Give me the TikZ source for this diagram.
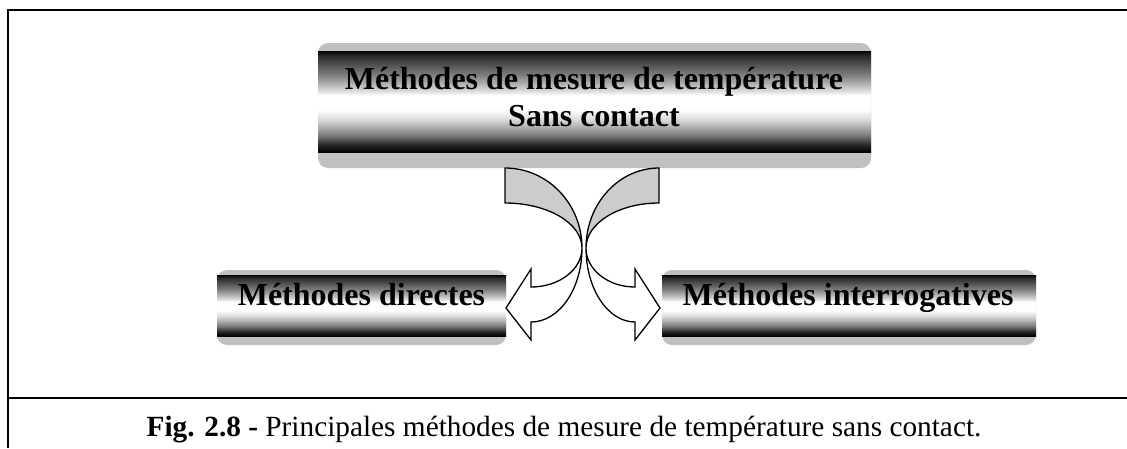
\documentclass[tikz,border=0pt]{standalone}
\usepackage{fontspec}
\setmainfont{Liberation Serif}
% metallic tube: TikZ maps the path onto the 25bp--75bp part of the shading
\pgfdeclareverticalshading{tube}{100bp}{color(0bp)=(black); color(25bp)=(black); color(28.5bp)=(black!85); color(33.5bp)=(black!50); color(41bp)=(black!15); color(46bp)=(white); color(53bp)=(white); color(55.5bp)=(black!15); color(63bp)=(black!50); color(73bp)=(black!85); color(75bp)=(black); color(100bp)=(black)}
\definecolor{boxgray}{HTML}{C0C0C0}
\definecolor{backgray}{HTML}{CCCCCC}
\tikzset{
  frameline/.style={line width=2pt},
  plate/.style={fill=boxgray, rounded corners=10pt},
  band/.style={shading=tube},
  boxtext/.style={inner sep=0pt, anchor=base, font=\fontsize{32}{37}\selectfont\bfseries},
  captext/.style={inner sep=0pt, anchor=base, font=\fontsize{29.3}{34}\selectfont},
  backface/.style={fill=backgray, draw=black, line width=1.3pt, line join=miter},
  frontface/.style={fill=white, draw=black, line width=1.3pt, line join=miter},
}
\begin{document}
\begin{tikzpicture}[x=1pt, y=-1pt]
\useasboundingbox (0,0) rectangle (1127,448);

% outer frame and caption rule
\draw[frameline] (1127,10) -- (8,10) -- (8,448);
\draw[frameline] (8,398) -- (1127,398);

% top box
\fill[plate] (318,43) rectangle (871,168);
\shade[band] (318,51) rectangle (871,152);
\node[boxtext] (topA) at (594,89.3) {Méthodes de mesure de température};
\node[boxtext] (topB) at (594,126.7) {Sans contact};

% lower left box
\fill[plate] (217,270) rectangle (506,345);
\shade[band] (217,275) rectangle (506,336);
\node[boxtext] (direct) at (361.5,305) {Méthodes directes};

% lower right box
\fill[plate] (662,270) rectangle (1036,345);
\shade[band] (662,275) rectangle (1036,336);
\node[boxtext] (interr) at (848,305) {Méthodes interrogatives};

% left curved arrow: back face, then front face with head
\draw[backface] (505,168) .. controls (547.5,168) and (582,203.8) .. (582,248)
  .. controls (582,223.1) and (547.5,203) .. (505,203) -- cycle;
\draw[frontface] (582,248) .. controls (582,288.9) and (559.2,322) .. (531,322)
  -- (531,340) -- (506,308) -- (531,269) -- (531,287)
  .. controls (559.2,287) and (582,269.5) .. (582,248) -- cycle;

% right curved arrow: back face, then front face with head
\draw[backface] (659,168) .. controls (618.7,168) and (586,203.8) .. (586,248)
  .. controls (586,223.1) and (618.7,203) .. (659,203) -- cycle;
\draw[frontface] (586,248) .. controls (586,288.9) and (607.9,322) .. (635,322)
  -- (635,340) -- (660,308) -- (635,269) -- (635,287)
  .. controls (607.9,287) and (586,269.5) .. (586,248) -- cycle;

% caption
\node[captext] (caption) at (564,436) {\textbf{Fig. 2.8 -} Principales méthodes de mesure de température sans contact.};
\end{tikzpicture}
\end{document}
